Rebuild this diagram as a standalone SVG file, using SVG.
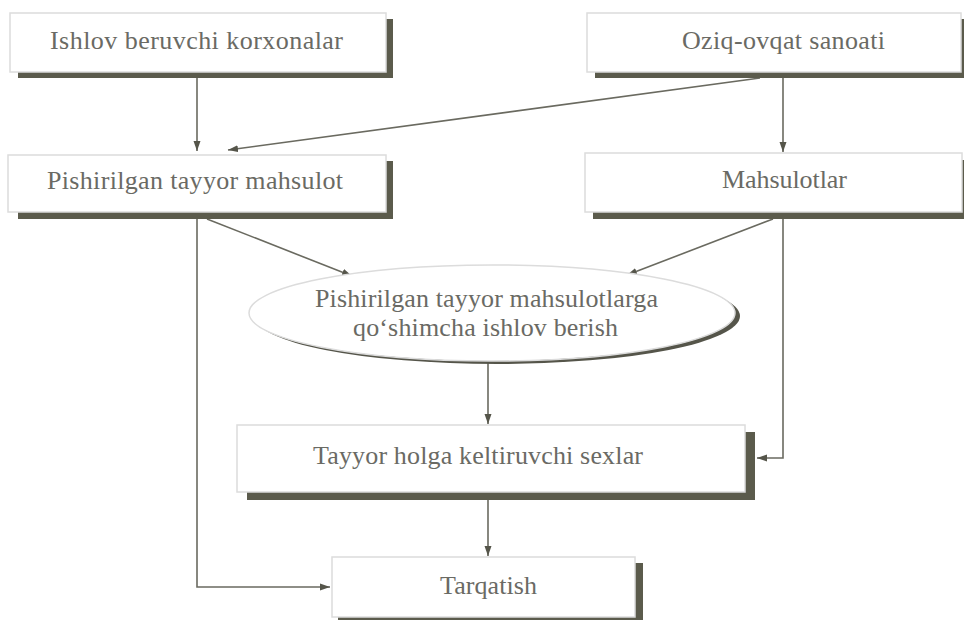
<svg xmlns="http://www.w3.org/2000/svg" width="964" height="620" viewBox="0 0 964 620">
<style>
.box{fill:#ffffff;stroke:#dcdcdc;stroke-width:1.5}
.sh{fill:#5b5b4c}
.t{font-family:"Liberation Serif","Times New Roman",serif;font-size:26px;fill:#6a6a64}
.c{fill:none;stroke:#6a6a60;stroke-width:1.6;marker-end:url(#ah)}
</style>
<defs>
<marker id="ah" viewBox="0 0 10 8" refX="10" refY="4" markerWidth="10" markerHeight="8" markerUnits="userSpaceOnUse" orient="auto">
<path d="M0,0.5 L10,4 L0,7.5 Z" fill="#55554a"/>
</marker>
</defs>
<rect width="964" height="620" fill="#ffffff"/>
<g id="connectors">
<path class="c" d="M197,78 L197,151"/>
<path class="c" d="M760,78 L228,150"/>
<path class="c" d="M783,78 L783,152"/>
<path class="c" d="M207,219 L352,276"/>
<path class="c" d="M773,219 L627,275"/>
<path class="c" d="M197,219 L197,587 L330,587"/>
<path class="c" d="M783,219 L783,458 L757,458"/>
<path class="c" d="M488,363 L488,424"/>
<path class="c" d="M488,500 L488,556"/>
</g>
<g id="n1">
<rect class="sh" x="18" y="19" width="375" height="59"/>
<rect class="box" x="10" y="13" width="376" height="59"/>
<text class="t" x="50" y="49" textLength="293" lengthAdjust="spacing">Ishlov beruvchi korxonalar</text>
</g>
<g id="n2">
<rect class="sh" x="595" y="19" width="380" height="59"/>
<rect class="box" x="587" y="13" width="374" height="59"/>
<text class="t" x="682" y="49" textLength="203" lengthAdjust="spacing">Oziq-ovqat sanoati</text>
</g>
<g id="n3">
<rect class="sh" x="18" y="161" width="375" height="58"/>
<rect class="box" x="8" y="155" width="378" height="57"/>
<text class="t" x="47" y="189" textLength="296" lengthAdjust="spacing">Pishirilgan tayyor mahsulot</text>
</g>
<g id="n4">
<rect class="sh" x="593" y="160" width="380" height="59"/>
<rect class="box" x="585" y="153" width="377" height="59"/>
<text class="t" x="722" y="188" textLength="125" lengthAdjust="spacing">Mahsulotlar</text>
</g>
<g id="n5">
<ellipse cx="497" cy="316" rx="243" ry="48" fill="#55554a"/>
<ellipse cx="492" cy="313" rx="243" ry="48" fill="#ffffff" stroke="#dcdcdc" stroke-width="1.5"/>
<text class="t" x="315" y="307" textLength="343" lengthAdjust="spacing">Pishirilgan tayyor mahsulotlarga</text>
<text class="t" x="353" y="336" textLength="265" lengthAdjust="spacing">qo‘shimcha ishlov berish</text>
</g>
<g id="n6">
<rect class="sh" x="247" y="432" width="508" height="68"/>
<rect class="box" x="237" y="425" width="508" height="67"/>
<text class="t" x="313" y="464" textLength="330" lengthAdjust="spacing">Tayyor holga keltiruvchi sexlar</text>
</g>
<g id="n7">
<rect class="sh" x="338" y="563" width="305" height="60"/>
<rect class="box" x="332" y="557" width="303" height="60"/>
<text class="t" x="440" y="594" textLength="97" lengthAdjust="spacing">Tarqatish</text>
</g>
</svg>
